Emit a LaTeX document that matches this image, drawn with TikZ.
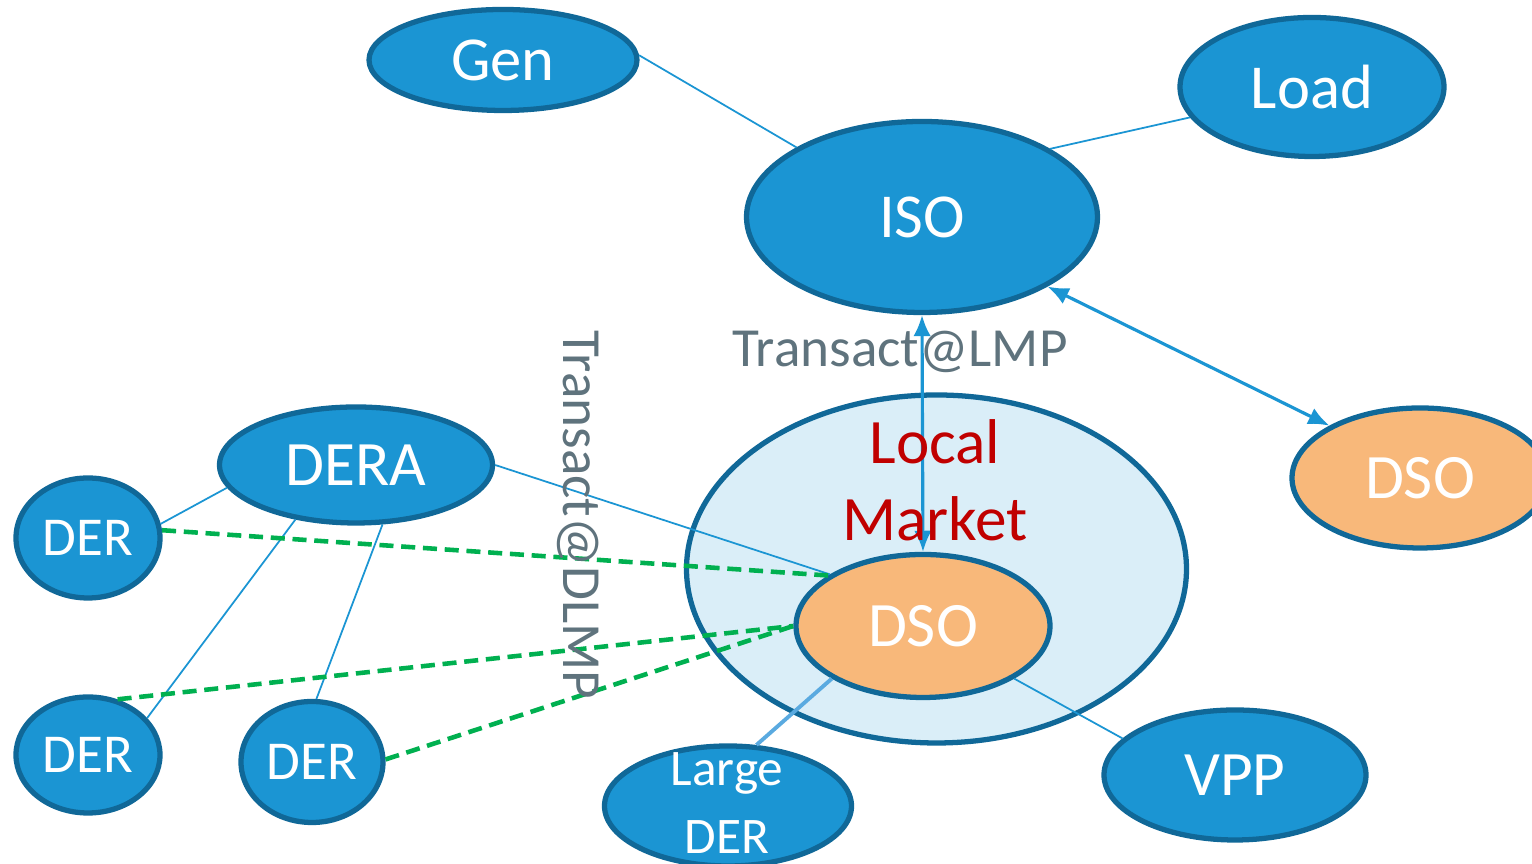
\documentclass[tikz,border=0pt]{standalone}
\usepackage{fontspec}
\setmainfont{Carlito}
\usetikzlibrary{arrows.meta,positioning,shapes.geometric}

\definecolor{nodeblue}{HTML}{1B95D3}
\definecolor{edgeblue}{HTML}{106898}
\definecolor{dsoorange}{HTML}{F8B87A}
\definecolor{marketfill}{HTML}{DAEEF8}
\definecolor{dealgreen}{HTML}{00B050}
\definecolor{marketred}{HTML}{C00000}
\definecolor{notegray}{HTML}{5F737D}
\definecolor{lightlink}{HTML}{5AAAE0}

\begin{document}
\begin{tikzpicture}[
    % --- styles ---
    agent/.style={ellipse, draw=edgeblue, line width=1.5pt, fill=nodeblue, inner sep=0pt, text=white},
    dso node/.style={agent, fill=dsoorange},
    market/.style={ellipse, draw=edgeblue, line width=1.5pt, fill=marketfill, inner sep=0pt},
    big text/.style={font=\fontsize{17.8}{21}\selectfont},
    mid text/.style={font=\fontsize{18}{21.9}\selectfont},
    der text/.style={font=\fontsize{15.6}{19}\selectfont},
    % thin connection line
    link/.style={nodeblue, line width=0.5pt},
    % transaction arrow (both ends)
    flow/.style={nodeblue, line width=0.9pt, {Latex[length=6pt,width=5pt]}-{Latex[length=6pt,width=5pt]}},
    % dashed green peer trade
    deal/.style={dealgreen, line width=1.3pt, dash pattern=on 4pt off 2.2pt},
    note/.style={text=notegray, font=\fontsize{15.7}{19}\selectfont, inner sep=0pt}
]
    \clip (0,0) rectangle (15.32,8.64);

    % --- 1. local market area ---
    \node[market, minimum width=5.0cm, minimum height=3.48cm] (market) at (9.365,2.95) {};

    % --- 2. transmission level ---
    \node[agent, big text, minimum width=2.68cm, minimum height=1.01cm] (gen) at (5.03,8.04) {Gen};
    \node[agent, big text, minimum width=2.64cm, minimum height=1.39cm] (load) at (13.12,7.77) {Load};
    \node[agent, big text, minimum width=3.51cm, minimum height=1.91cm] (iso) at (9.22,6.47) {ISO};
    \node[dso node, mid text, minimum width=2.56cm, minimum height=1.40cm] (dsoR) at (14.20,3.86) {DSO};

    % --- 3. distribution level ---
    \node[dso node, mid text, minimum width=2.54cm, minimum height=1.43cm] (dso) at (9.23,2.38) {DSO};
    \node[agent, mid text, minimum width=2.73cm, minimum height=1.16cm] (dera) at (3.56,3.99) {DERA};
    \node[agent, der text, minimum width=1.44cm, minimum height=1.20cm] (der1) at (0.88,3.26) {DER};
    \node[agent, der text, minimum width=1.44cm, minimum height=1.16cm] (der2) at (0.88,1.09) {DER};
    \node[agent, der text, minimum width=1.42cm, minimum height=1.21cm] (der3) at (3.12,1.02) {DER};
    \node[agent, minimum width=2.47cm, minimum height=1.20cm] (largeder) at (7.28,0.58) {};
    \node[agent, mid text, minimum width=2.62cm, minimum height=1.30cm] (vpp) at (12.35,0.89) {VPP};

    % --- 4. connections ---
    \draw[link] (gen.2) -- (iso.151);
    \draw[link] (load.194) -- (iso.28);
    \draw[flow] (iso.331) -- (dsoR.150);
    \draw[flow] (iso.south) -- (dso.north);
    \draw[link] (dera.0) -- (dso.151);
    \draw[link] (dera.190) -- (der1.11);
    \draw[link] (dera.222) -- (der2.32);
    \draw[link] (dera.294) -- (der3.86);
    \draw[link, lightlink, line width=1.1pt] (dso.210) -- (largeder.65);
    \draw[link] (dso.330) -- (vpp.162);

    % peer trades with the DSO
    \draw[deal] (der1.6) -- (dso.152);
    \draw[deal] (der2.62) -- (dso.west);
    \draw[deal] (der3.2) -- (dso.west);

    % --- 5. labels ---
    \node[text=white, align=center, font=\fontsize{14.6}{19.3}\selectfont, inner sep=0pt] (largetxt) at (7.27,0.61) {Large\\DER};
    \node[text=marketred, align=center, mid text, inner sep=0pt] (localtxt) at (9.35,3.84) {Local\\Market};
    \node[note, anchor=base] (lmp) at (9.0,4.97) {Transact@LMP};
    \node[note, rotate=-90, anchor=base] (dlmp) at (5.63,3.49) {Transact@DLMP};

\end{tikzpicture}
\end{document}
